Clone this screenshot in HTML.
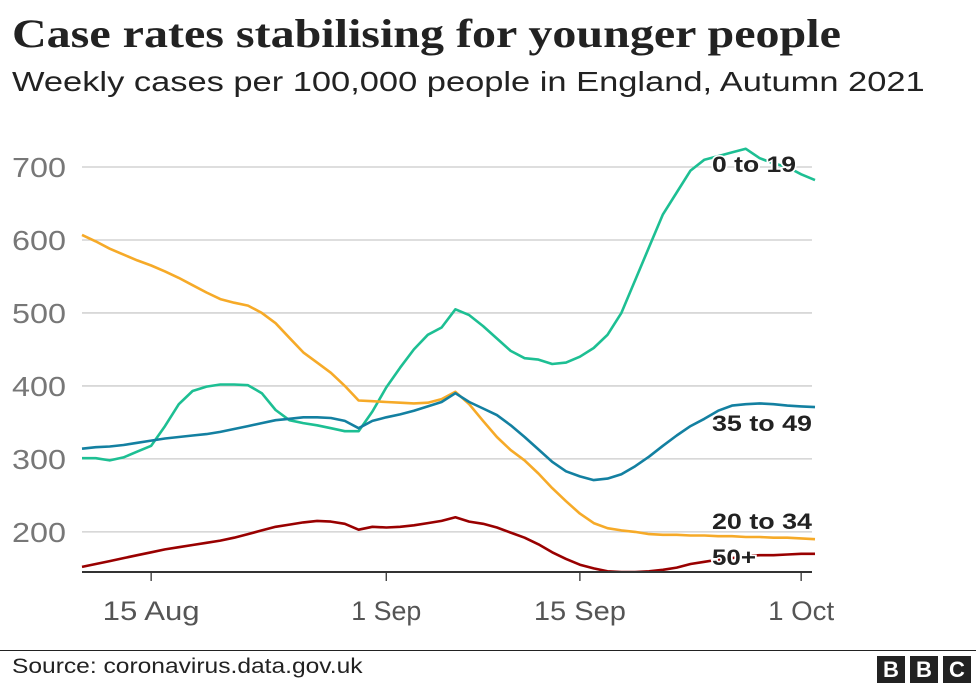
<!DOCTYPE html>
<html><head><meta charset="utf-8">
<style>
body{margin:0;background:#fff;width:976px;height:686px;overflow:hidden;font-family:"Liberation Sans",sans-serif;}
#title{position:absolute;left:12px;top:10px;font:bold 40px "Liberation Serif",serif;color:#222;white-space:nowrap;transform-origin:0 0;transform:scaleX(1.2);}
#subtitle{position:absolute;left:12px;top:66px;font-size:28px;color:#222;white-space:nowrap;transform-origin:0 0;transform:scaleX(1.23);}
#source{position:absolute;left:12px;top:655px;font-size:21px;color:#222;white-space:nowrap;transform-origin:0 0;transform:scaleX(1.17);}
#footline{position:absolute;left:0;top:650px;width:976px;height:1px;background:#222;}
.bbc{position:absolute;top:656px;width:28px;height:27px;background:#222;color:#fff;font:bold 22px "Liberation Sans",sans-serif;text-align:center;line-height:27px;}
</style></head><body>
<div id="title">Case rates stabilising for younger people</div>
<div id="subtitle">Weekly cases per 100,000 people in England, Autumn 2021</div>
<svg id="chart" width="976" height="686" style="position:absolute;left:0;top:0"></svg>
<div id="footline"></div>
<div id="source">Source: coronavirus.data.gov.uk</div>
<div class="bbc" style="left:877px">B</div>
<div class="bbc" style="left:910px">B</div>
<div class="bbc" style="left:943px">C</div>
<script>
const yTicks=[200,300,400,500,600,700];
const xTickLabels=["15 Aug","1 Sep","15 Sep","1 Oct"];
const xTickDays=[5,22,36,52];
const age0to19=[301,301,298,302,310,318,345,375,393,399,402,402,401,390,367,353,349,346,342,338,338,365,398,425,450,470,480,505,497,482,465,448,438,436,430,432,440,452,470,500,545,590,635,665,695,710,715,720,725,712,705,700,690,682];
const age20to34=[607,598,588,580,572,565,557,548,538,528,519,514,510,500,486,466,446,432,418,400,380,379,378,377,376,377,382,392,375,352,330,312,298,280,260,242,225,212,205,202,200,197,196,196,195,195,194,194,193,193,192,192,191,190];
const age35to49=[314,316,317,319,322,325,328,330,332,334,337,341,345,349,353,355,357,357,356,352,342,352,357,361,366,372,378,390,378,369,360,346,330,313,296,283,276,271,273,279,290,303,318,332,345,355,366,373,375,376,375,373,372,371];
const age50plus=[152,156,160,164,168,172,176,179,182,185,188,192,197,202,207,210,213,215,214,211,203,207,206,207,209,212,215,220,214,211,206,199,192,183,172,163,155,150,146,145,145,146,148,151,156,159,162,164,167,168,168,169,170,170];
const seriesNames=["0 to 19","20 to 34","35 to 49","50+"];

const NS="http://www.w3.org/2000/svg";
const svg=document.getElementById('chart');
const yMin=145,yMax=700,yTop=167,yBot=572;
const xL=82,dayW=13.83;
function X(d){return xL+d*dayW;}
function Y(v){return yBot-(v-yMin)/(yMax-yMin)*(yBot-yTop);}
function mk(t,a){const e=document.createElementNS(NS,t);for(const k in a)e.setAttribute(k,a[k]);svg.appendChild(e);return e;}
const xR=X(age0to19.length-1)-3;
yTicks.forEach(v=>{
  const g=mk('line',{x1:xL,x2:xR,y1:Y(v),y2:Y(v),stroke:'#cbcbcb','stroke-width':1.3});
  
  
  const t=mk('text',{x:12,y:Y(v)+10,'font-size':28,fill:'#777','font-family':'Liberation Sans, sans-serif',textLength:54,lengthAdjust:'spacingAndGlyphs'});
  t.textContent=v;
  
  
});
const xLabelW=[97,70,92,66];
xTickDays.forEach((d,i)=>{
  const l=mk('line',{x1:X(d),x2:X(d),y1:yBot,y2:yBot+9,stroke:'#333','stroke-width':1.3});
  
  
  const t=mk('text',{x:X(d)-xLabelW[i]/2,y:620,'font-size':27,fill:'#555','font-family':'Liberation Sans, sans-serif',textLength:xLabelW[i],lengthAdjust:'spacingAndGlyphs'});
  t.textContent=xTickLabels[i];
  
  
});
const defs=mk('defs',{});
const cp=document.createElementNS(NS,'clipPath');cp.setAttribute('id','clip');defs.appendChild(cp);
const cr=document.createElementNS(NS,'rect');cr.setAttribute('x',0);cr.setAttribute('y',0);cr.setAttribute('width',976);cr.setAttribute('height',yBot);cp.appendChild(cr);
const series=[age0to19,age20to34,age35to49,age50plus];
const colors=["#1dbf93","#f6aa28","#1380a1","#990000"];
const names=["line-0-to-19","line-20-to-34","line-35-to-49","line-50-plus"];
series.forEach((s,i)=>{
  const d=s.map((v,j)=>(j?'L':'M')+X(j).toFixed(1)+','+Y(v).toFixed(1)).join('');
  const p=mk('path',{d:d,fill:'none',stroke:colors[i],'stroke-width':2.6,'stroke-linejoin':'round','clip-path':'url(#clip)'});
  
  
});
const base=mk('line',{x1:xL,x2:xR,y1:yBot,y2:yBot,stroke:'#333','stroke-width':2});


const labelY=[172,529,431,565];
const labelW=[84,100,100,44];
seriesNames.forEach((n,i)=>{
  const t=mk('text',{x:712,y:labelY[i],'font-size':22,'font-weight':'bold',fill:'#222',stroke:'#fff','stroke-width':3,'paint-order':'stroke','font-family':'Liberation Sans, sans-serif',textLength:labelW[i],lengthAdjust:'spacingAndGlyphs'});
  t.textContent=n;
  
  
});
</script>
</body></html>
